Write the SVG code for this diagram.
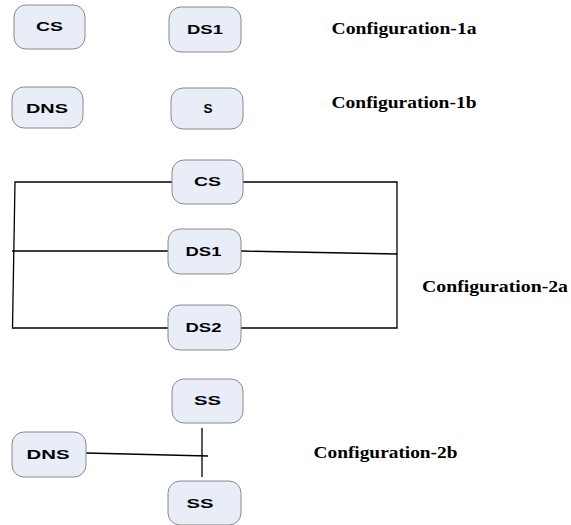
<svg xmlns="http://www.w3.org/2000/svg" width="571" height="525" viewBox="0 0 571 525">
  <style>
    .node rect { fill: #e8edf7; stroke: #8a8a8a; stroke-width: 1; }
    .node text { font-family: "Liberation Sans", Arial, sans-serif; font-weight: bold; font-size: 12.5px; fill: #000; text-anchor: middle; }
    .label { font-family: "Liberation Serif", "Times New Roman", serif; font-weight: bold; font-size: 16.5px; fill: #000; }
    .wire { fill: none; stroke: #000; stroke-width: 1.3; }
  </style>
  <rect width="571" height="525" fill="#fff"/>

  <!-- connectors -->
  <g id="connectors" class="wire">
    <!-- configuration 2a frame -->
    <polyline points="172,182 15,182 12.5,328 168,328"/>
    <polyline points="243,182 397,182 397,328 241,328"/>
    <line x1="12" y1="251" x2="168" y2="251"/>
    <line x1="241" y1="251" x2="397" y2="254"/>
    <!-- configuration 2b -->
    <line x1="202" y1="428" x2="202" y2="477"/>
    <line x1="86" y1="453" x2="208" y2="456"/>
  </g>

  <!-- configuration 1a -->
  <g id="cs-1a" class="node"><rect x="14" y="5" width="71" height="44" rx="12"/><text x="49.5" y="31" textLength="27" lengthAdjust="spacingAndGlyphs">CS</text></g>
  <g id="ds1-1a" class="node"><rect x="169" y="7" width="72" height="45" rx="12"/><text x="205" y="34" textLength="36" lengthAdjust="spacingAndGlyphs">DS1</text></g>
  <text class="label" x="331.5" y="34" textLength="145" lengthAdjust="spacingAndGlyphs">Configuration-1a</text>

  <!-- configuration 1b -->
  <g id="dns-1b" class="node"><rect x="12" y="87" width="71" height="41" rx="12"/><text x="47" y="113" textLength="42" lengthAdjust="spacingAndGlyphs">DNS</text></g>
  <g id="s-1b" class="node"><rect x="171" y="88" width="72" height="41" rx="12"/><text x="208" y="113" textLength="9" lengthAdjust="spacingAndGlyphs">S</text></g>
  <text class="label" x="331.5" y="108" textLength="145" lengthAdjust="spacingAndGlyphs">Configuration-1b</text>

  <!-- configuration 2a -->
  <g id="cs-2a" class="node"><rect x="172" y="160" width="71" height="44" rx="12"/><text x="207.5" y="186" textLength="27" lengthAdjust="spacingAndGlyphs">CS</text></g>
  <g id="ds1-2a" class="node"><rect x="168" y="229" width="73" height="45" rx="12"/><text x="203.5" y="256" textLength="36" lengthAdjust="spacingAndGlyphs">DS1</text></g>
  <g id="ds2-2a" class="node"><rect x="168" y="305" width="73" height="45" rx="12"/><text x="203.5" y="332" textLength="36" lengthAdjust="spacingAndGlyphs">DS2</text></g>
  <text class="label" x="422" y="292" textLength="146" lengthAdjust="spacingAndGlyphs">Configuration-2a</text>

  <!-- configuration 2b -->
  <g id="ss-top" class="node"><rect x="172" y="379" width="71" height="44" rx="12"/><text x="207.5" y="405" textLength="27" lengthAdjust="spacingAndGlyphs">SS</text></g>
  <g id="dns-2b" class="node"><rect x="12" y="432" width="74" height="45" rx="12"/><text x="48" y="459" textLength="43" lengthAdjust="spacingAndGlyphs">DNS</text></g>
  <g id="ss-bottom" class="node"><rect x="168" y="481" width="73" height="44" rx="12"/><text x="200" y="508" textLength="27" lengthAdjust="spacingAndGlyphs">SS</text></g>
  <text class="label" x="313.5" y="458" textLength="144" lengthAdjust="spacingAndGlyphs">Configuration-2b</text>
</svg>
